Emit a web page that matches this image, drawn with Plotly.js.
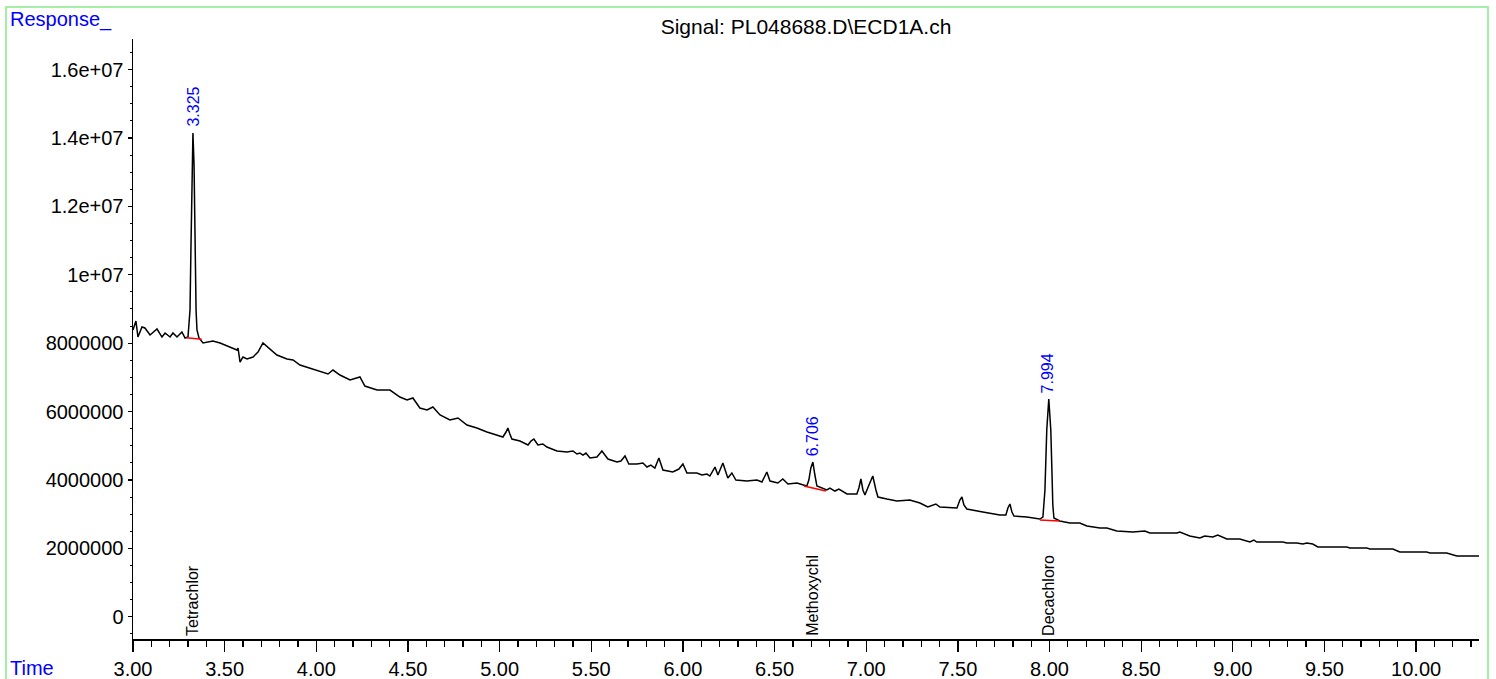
<!DOCTYPE html>
<html>
<head>
<meta charset="utf-8">
<script src="https://cdn.plot.ly/plotly-3.0.1.min.js"></script>
<style>
html,body{margin:0;padding:0;background:#fff;}
#wrap{position:relative;width:1496px;height:679px;overflow:hidden;}
#chart{width:1496px;height:679px;}
#frame{position:absolute;left:5px;top:6px;width:1484px;height:700px;border:2px solid #a6eea6;pointer-events:none;box-sizing:border-box;}
</style>
</head>
<body>
<div id="wrap"><div id="chart"></div><div id="frame"></div></div>
<script>
// Retention time (min)
const times = [3.000,3.016,3.027,3.049,3.065,3.093,3.131,3.158,3.175,3.202,3.218,3.240,3.267,3.284,3.300,
3.311,3.316,3.322,3.327,3.333,3.338,3.344,3.349,3.360,3.382,3.436,3.475,3.529,3.567,3.573,3.584,3.600,3.622,
3.655,3.682,3.709,3.736,3.785,3.840,3.873,3.911,3.965,4.020,4.064,4.091,4.129,4.184,4.238,4.265,4.331,4.402,
4.456,4.495,4.527,4.565,4.604,4.636,4.675,4.729,4.773,4.822,4.876,4.931,4.985,5.018,5.035,5.045,5.056,5.067,
5.111,5.155,5.171,5.187,5.209,5.236,5.258,5.313,5.367,5.400,5.422,5.438,5.455,5.471,5.493,5.531,5.558,5.575,
5.591,5.640,5.662,5.684,5.705,5.749,5.782,5.804,5.825,5.847,5.869,5.891,5.945,5.978,6.000,6.022,6.076,6.104,
6.131,6.147,6.175,6.191,6.218,6.245,6.267,6.289,6.349,6.404,6.431,6.458,6.475,6.518,6.545,6.573,6.622,6.676,
6.687,6.698,6.709,6.720,6.731,6.785,6.802,6.829,6.851,6.895,6.949,6.960,6.971,6.982,6.993,7.015,7.036,7.053,
7.064,7.113,7.167,7.238,7.293,7.336,7.380,7.402,7.456,7.495,7.511,7.522,7.533,7.549,7.636,7.729,7.762,7.773,
7.784,7.795,7.806,7.876,7.947,7.964,7.975,7.985,7.996,8.007,8.013,8.018,8.024,8.056,8.111,8.165,8.204,8.275,
8.313,8.367,8.455,8.520,8.547,8.695,8.711,8.765,8.820,8.847,8.891,8.918,8.967,9.038,9.093,9.115,9.131,9.273,
9.295,9.349,9.382,9.404,9.436,9.464,9.622,9.638,9.731,9.747,9.873,9.911,10.058,10.075,10.167,10.222,10.347];

// Detector response
const responses = [8383000,8646000,8178000,8471000,8442000,8237000,8412000,8178000,8295000,8178000,8295000,8178000,8325000,8149000,8178000,
8968000,10722000,13061000,14143000,13208000,10722000,8968000,8383000,8149000,8003000,8061000,8003000,7886000,7798000,7857000,7447000,7594000,7535000,
7594000,7740000,8003000,7886000,7652000,7535000,7506000,7360000,7272000,7184000,7096000,7213000,7067000,6921000,7009000,6745000,6628000,6628000,
6424000,6336000,6395000,6102000,6044000,6132000,5898000,5752000,5810000,5605000,5517000,5400000,5313000,5254000,5400000,5517000,5342000,5196000,
5137000,5020000,5137000,5196000,5020000,5050000,4962000,4845000,4816000,4845000,4757000,4786000,4728000,4786000,4640000,4669000,4845000,4728000,
4611000,4523000,4552000,4699000,4465000,4465000,4494000,4377000,4435000,4348000,4640000,4289000,4231000,4318000,4465000,4202000,4202000,4143000,
4172000,4114000,4377000,4143000,4494000,4055000,4202000,3997000,3967000,3997000,3938000,4231000,3967000,3909000,4026000,3880000,3909000,3821000,
3997000,4348000,4523000,4143000,3821000,3705000,3763000,3675000,3734000,3588000,3588000,3763000,4026000,3705000,3558000,3851000,4114000,3705000,
3500000,3441000,3383000,3412000,3324000,3207000,3295000,3207000,3178000,3178000,3412000,3500000,3266000,3149000,3061000,2973000,2973000,3178000,
3295000,3061000,2944000,2915000,2856000,2915000,3704000,5459000,6366000,5459000,4289000,3266000,2885000,2798000,2739000,2739000,2652000,2593000,
2593000,2505000,2476000,2505000,2447000,2447000,2476000,2359000,2301000,2359000,2330000,2389000,2272000,2272000,2184000,2242000,2184000,2184000,
2155000,2155000,2125000,2155000,2125000,2038000,2038000,2008000,2008000,1979000,1979000,1891000,1891000,1862000,1862000,1774000,1774000];

// Integrated peaks
const peakTimes = [3.325, 6.706, 7.994];
const peakLabels = ["3.325", "6.706", "7.994"];
const compoundNames = ["Tetrachlor", "Methoxychl", "Decachloro"];
const baseStartT = [3.291, 6.660, 7.947];
const baseEndT   = [3.375, 6.780, 8.056];
const baseStartV = [8158000, 3821000, 2827000];
const baseEndV   = [8111000, 3675000, 2798000];

// Axis ticks
const yTickVals = [0,2000000,4000000,6000000,8000000,10000000,12000000,14000000,16000000];
const yTickText = ["0","2000000","4000000","6000000","8000000","1e+07","1.2e+07","1.4e+07","1.6e+07"];
const xTickVals = [3,3.5,4,4.5,5,5.5,6,6.5,7,7.5,8,8.5,9,9.5,10];
const xTickText = ["3.00","3.50","4.00","4.50","5.00","5.50","6.00","6.50","7.00","7.50","8.00","8.50","9.00","9.50","10.00"];

const FONT = "Liberation Sans, Arial, sans-serif";

const traces = [{
  x: times, y: responses, type: 'scatter', mode: 'lines',
  line: {color: '#000000', width: 1.5}, hoverinfo: 'skip', showlegend: false
}];
for (let i = 0; i < peakTimes.length; i++) {
  traces.push({
    x: [baseStartT[i], baseEndT[i]], y: [baseStartV[i], baseEndV[i]],
    type: 'scatter', mode: 'lines', line: {color: '#ff0000', width: 1.5},
    hoverinfo: 'skip', showlegend: false
  });
}

function peakHeight(t) {
  let m = -Infinity;
  for (let i = 0; i < times.length; i++) {
    if (Math.abs(times[i] - t) < 0.02 && responses[i] > m) m = responses[i];
  }
  return m;
}

const annotations = [];
for (let i = 0; i < peakTimes.length; i++) {
  annotations.push({
    x: peakTimes[i], y: peakHeight(peakTimes[i]), xref: 'x', yref: 'y',
    text: peakLabels[i], showarrow: false, textangle: -90,
    xanchor: 'center', yanchor: 'bottom', yshift: 4,
    font: {family: FONT, size: 16, color: '#0000ff'}
  });
  annotations.push({
    x: peakTimes[i], y: 0, xref: 'x', yref: 'paper',
    text: compoundNames[i], showarrow: false, textangle: -90,
    xanchor: 'center', yanchor: 'bottom', yshift: 1,
    font: {family: FONT, size: 16, color: '#000000'}
  });
}
annotations.push({
  x: -0.0929, y: 1.032, xref: 'paper', yref: 'paper', text: 'Response_',
  showarrow: false, xanchor: 'left', yanchor: 'middle',
  font: {family: FONT, size: 20, color: '#0000ff'}
});
annotations.push({
  x: -0.0929, y: -0.049, xref: 'paper', yref: 'paper', text: 'Time',
  showarrow: false, xanchor: 'left', yanchor: 'middle',
  font: {family: FONT, size: 20, color: '#0000ff'}
});

const layout = {
  width: 1496, height: 679,
  margin: {l: 133, r: 17, t: 39, b: 40, pad: 0},
  paper_bgcolor: '#ffffff', plot_bgcolor: '#ffffff',
  font: {family: FONT, size: 20, color: '#000000'},
  title: {text: 'Signal: PL048688.D\\ECD1A.ch', x: 0.5, xref: 'paper',
          y: 1 - 27/679, yref: 'container', yanchor: 'middle',
          font: {family: FONT, size: 21, color: '#000000'}},
  showlegend: false,
  xaxis: {
    range: [3, 10.343], showgrid: false, zeroline: false,
    showline: true, linecolor: '#000000', linewidth: 1.5,
    ticks: 'outside', ticklen: 11, tickwidth: 1.3, tickcolor: '#000000',
    tickvals: xTickVals, ticktext: xTickText,
    tickfont: {family: FONT, size: 20, color: '#000000'},
    minor: {dtick: 0.1, tick0: 3, ticks: 'outside', ticklen: 6, tickwidth: 1.3, tickcolor: '#000000', showgrid: false},
    fixedrange: true
  },
  yaxis: {
    range: [-652000, 16892000], showgrid: false, zeroline: false,
    showline: true, linecolor: '#000000', linewidth: 1.5,
    ticks: 'outside', ticklen: 4, tickwidth: 1.2, tickcolor: '#000000',
    tickvals: yTickVals, ticktext: yTickText,
    tickfont: {family: FONT, size: 20, color: '#000000'},
    minor: {dtick: 500000, tick0: 0, ticks: 'outside', ticklen: 2, tickwidth: 1, tickcolor: '#000000', showgrid: false},
    fixedrange: true
  },
  annotations: annotations
};

Plotly.newPlot('chart', traces, layout, {displayModeBar: false, staticPlot: true});
</script>
</body>
</html>
